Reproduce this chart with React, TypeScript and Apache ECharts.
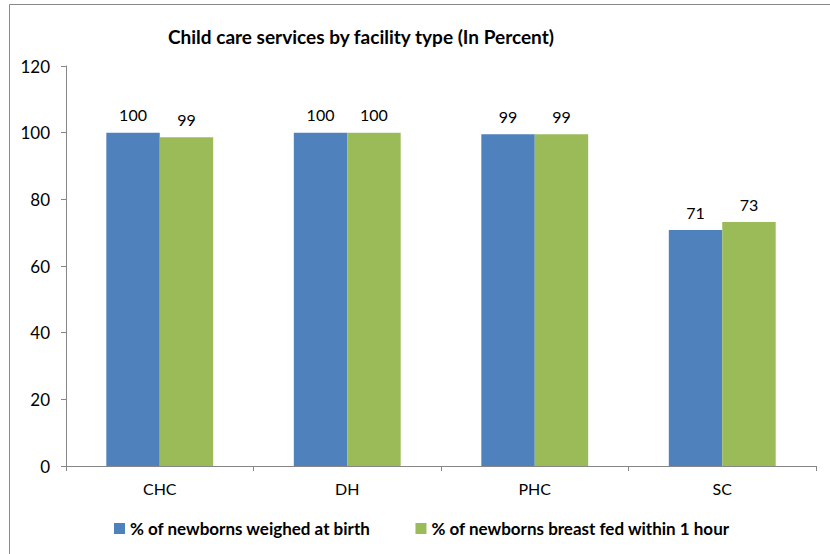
import React, { useEffect, useRef } from "react";
import * as echarts from "echarts";

const categories = ["CHC", "DH", "PHC", "SC"];
const weighedAtBirth = [100, 100, 99.5, 70.8];
const breastFed1Hour = [98.6, 100, 99.5, 73.2];
const labelWeighed = ["100", "100", "99", "71"];
const labelBreastFed = ["99", "100", "99", "73"];
const seriesNames = ["% of newborns weighed at birth", "% of newborns breast fed within 1 hour"];

const FONT = "Lato, 'Open Sans', sans-serif";

export default function App() {
  const ref = useRef<HTMLDivElement>(null);
  useEffect(() => {
    document.body.style.margin = "0";
    const chart = echarts.init(ref.current!, null, { renderer: "svg" });
    chart.setOption({
      animation: false,
      backgroundColor: "#ffffff",
      textStyle: { fontFamily: FONT },
      title: {
        text: "Child care services by facility type (In Percent)",
        left: 163,
        top: 22,
        textStyle: { fontFamily: FONT, fontWeight: "bold", fontSize: 19, color: "#000" },
      },
      graphic: [
        {
          type: "rect",
          shape: { x: 9.5, y: 4.5, width: 900, height: 700 },
          style: { fill: "none", stroke: "#898989", lineWidth: 1 },
          silent: true,
        },
      ],
      legend: {
        top: 515,
        left: 109,
        itemWidth: 11,
        itemHeight: 11,
        itemGap: 45,
        icon: "rect",
        textStyle: { fontFamily: FONT, fontWeight: "bold", fontSize: 17, color: "#000" },
        data: seriesNames,
      },
      grid: { left: 66, right: 14, top: 66, bottom: 88, containLabel: false },
      xAxis: {
        type: "category",
        data: categories,
        axisLine: { lineStyle: { color: "#868686" } },
        axisTick: { show: true, length: 5, alignWithLabel: false, lineStyle: { color: "#868686" } },
        axisLabel: { color: "#000", fontSize: 16, fontFamily: FONT, margin: 14 },
      },
      yAxis: {
        type: "value",
        min: 0,
        max: 120,
        interval: 20,
        axisLine: { show: true, lineStyle: { color: "#868686" } },
        axisTick: { show: true, length: 5, lineStyle: { color: "#868686" } },
        splitLine: { show: false },
        axisLabel: { color: "#000", fontSize: 17, fontFamily: FONT, margin: 16 },
      },
      series: [
        {
          name: seriesNames[0],
          type: "bar",
          data: weighedAtBirth,
          barGap: "0%",
          barCategoryGap: "43%",
          itemStyle: { color: "#4f81bd" },
          label: {
            show: true,
            position: "top",
            distance: 10,
            color: "#000",
            fontSize: 16,
            fontFamily: FONT,
            formatter: (p: any) => labelWeighed[p.dataIndex],
          },
        },
        {
          name: seriesNames[1],
          type: "bar",
          data: breastFed1Hour,
          barGap: "0%",
          barCategoryGap: "43%",
          itemStyle: { color: "#9bbb59" },
          label: {
            show: true,
            position: "top",
            distance: 10,
            color: "#000",
            fontSize: 16,
            fontFamily: FONT,
            formatter: (p: any) => labelBreastFed[p.dataIndex],
          },
        },
      ],
    });
    return () => chart.dispose();
  }, []);
  return <div ref={ref} style={{ width: 830, height: 554 }} />;
}
